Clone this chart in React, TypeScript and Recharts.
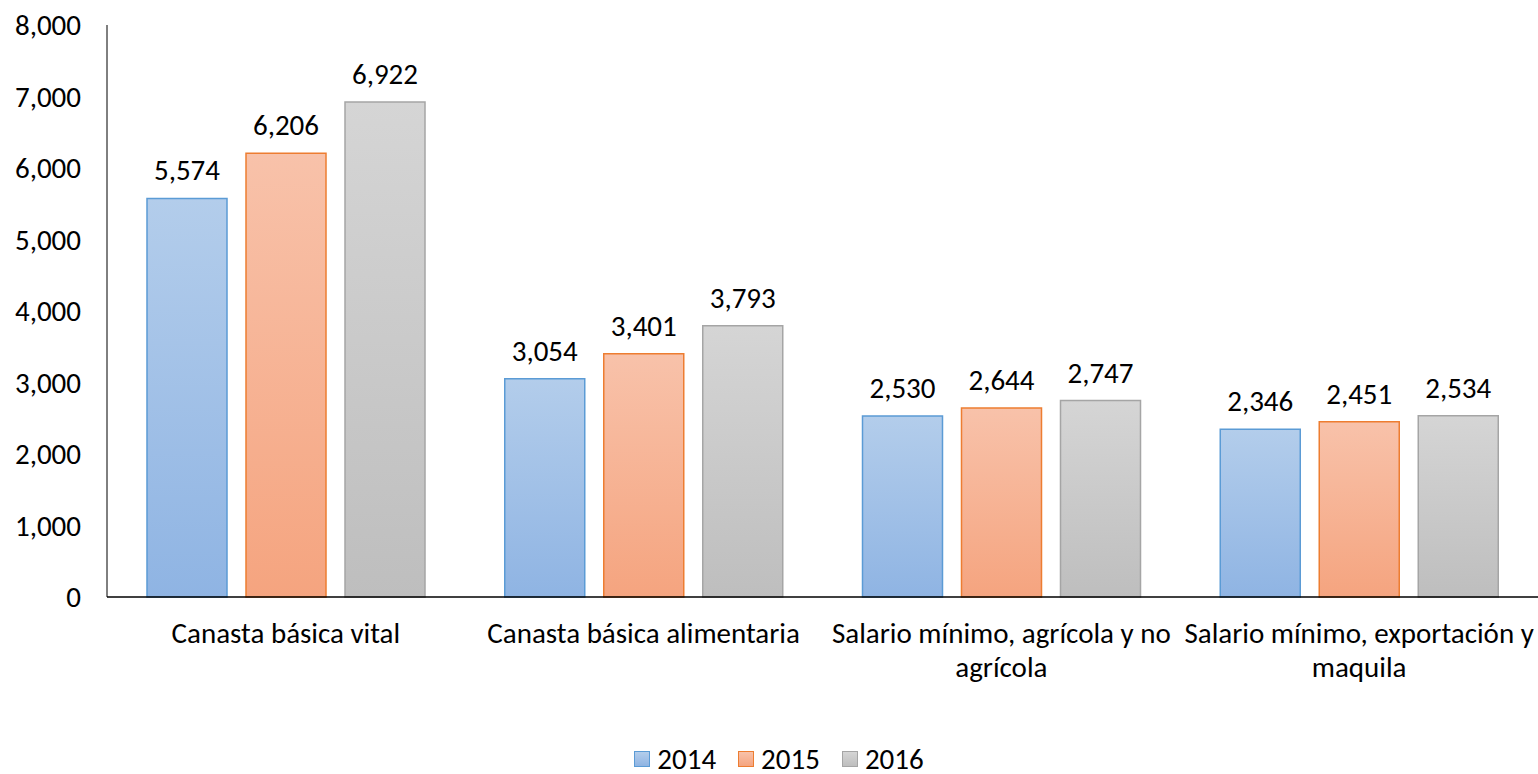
import React from 'react';
import { BarChart, Bar, XAxis, YAxis, Legend, LabelList } from 'recharts';

const categories = [
  'Canasta básica vital',
  'Canasta básica alimentaria',
  'Salario mínimo, agrícola y no agrícola',
  'Salario mínimo, exportación y maquila',
];
const values2014 = [5574, 3054, 2530, 2346];
const values2015 = [6206, 3401, 2644, 2451];
const values2016 = [6922, 3793, 2747, 2534];
const yTicks = [0, 1000, 2000, 3000, 4000, 5000, 6000, 7000, 8000];
const seriesNames = ['2014', '2015', '2016'];

const data = categories.map((c, i) => ({
  name: c,
  y2014: values2014[i],
  y2015: values2015[i],
  y2016: values2016[i],
}));

const FONT = 'Carlito, Calibri, Lato, sans-serif';
const FS = 29;

const series = [
  { key: 'y2014', name: seriesNames[0], stroke: '#5b9bd5', top: '#b3cdeb', bottom: '#8fb4e3', grad: 'g2014' },
  { key: 'y2015', name: seriesNames[1], stroke: '#ed7d31', top: '#f8c2aa', bottom: '#f5a47f', grad: 'g2015' },
  { key: 'y2016', name: seriesNames[2], stroke: '#a5a5a5', top: '#d5d5d5', bottom: '#bebebe', grad: 'g2016' },
];

const fmt = (v: number) => v.toLocaleString('en-US');

const wrap = (s: string, max: number) => {
  const words = s.split(' ');
  const lines: string[] = [];
  let cur = '';
  words.forEach((w) => {
    const next = cur ? cur + ' ' + w : w;
    if (next.length > max && cur) {
      lines.push(cur);
      cur = w;
    } else cur = next;
  });
  if (cur) lines.push(cur);
  return lines;
};

const XTick = (props: any) => {
  const { x, y, payload } = props;
  const lines = wrap(String(payload.value), 29);
  return (
    <text x={x} y={y} textAnchor="middle" fontSize={FS} fontFamily={FONT} fill="#000">
      {lines.map((l, i) => (
        <tspan key={i} x={x} dy={i === 0 ? 20 : 34}>
          {l}
        </tspan>
      ))}
    </text>
  );
};

const LegendContent = () => (
  <div
    style={{
      height: 30,
      display: 'flex',
      justifyContent: 'center',
      alignItems: 'center',
      fontFamily: FONT,
      fontSize: FS,
      color: '#000',
      paddingLeft: 20,
    }}
  >
    {series.map((s) => (
      <div key={s.key} style={{ display: 'flex', alignItems: 'center', margin: '0 11px' }}>
        <div
          style={{
            width: 14,
            height: 14,
            border: `1.5px solid ${s.stroke}`,
            background: `linear-gradient(${s.top}, ${s.bottom})`,
            marginRight: 7,
          }}
        />
        <span>{s.name}</span>
      </div>
    ))}
  </div>
);

export default function App() {
  return (
    <div style={{ position: 'absolute', left: 0, top: 0, width: 1538, height: 774, background: '#fff' }}>
      <BarChart
        width={1538}
        height={774}
        data={data}
        margin={{ top: 25, right: 0, bottom: 0, left: 0 }}
        barGap={19}
        barCategoryGap={40}
      >
        <defs>
          {series.map((s) => (
            <linearGradient key={s.grad} id={s.grad} x1="0" y1="0" x2="0" y2="1">
              <stop offset="0%" stopColor={s.top} />
              <stop offset="100%" stopColor={s.bottom} />
            </linearGradient>
          ))}
        </defs>
        <XAxis
          dataKey="name"
          height={147}
          tickSize={0}
          tickMargin={26}
          tickLine={false}
          axisLine={{ stroke: '#000', strokeWidth: 1.5 }}
          tick={<XTick />}
          interval={0}
        />
        <YAxis
          width={107}
          domain={[0, 8000]}
          ticks={yTicks}
          tickSize={0}
          tickMargin={26}
          tickLine={false}
          axisLine={{ stroke: '#000', strokeWidth: 1 }}
          tickFormatter={fmt}
          tick={{ fontSize: FS, fontFamily: FONT, fill: '#000' }}
          interval={0}
        />
        <Legend verticalAlign="bottom" content={<LegendContent />} />
        {series.map((s) => (
          <Bar
            key={s.key}
            dataKey={s.key}
            name={s.name}
            fill={`url(#${s.grad})`}
            stroke={s.stroke}
            strokeWidth={1.5}
            isAnimationActive={false}
          >
            <LabelList
              dataKey={s.key}
              position="top"
              offset={18}
              formatter={(v: any) => fmt(Number(v))}
              style={{ fontSize: FS, fontFamily: FONT, fill: '#000' }}
            />
          </Bar>
        ))}
      </BarChart>
    </div>
  );
}
